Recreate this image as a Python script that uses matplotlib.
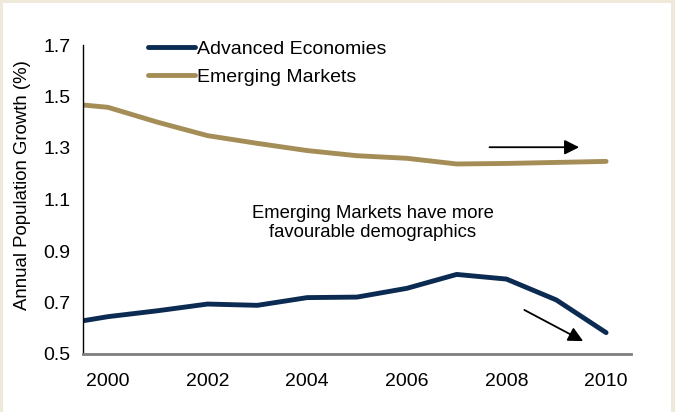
import matplotlib
matplotlib.use("Agg")
import matplotlib.pyplot as plt
from matplotlib.patches import Rectangle

plt.rcParams['font.family'] = ['Liberation Sans', 'DejaVu Sans']

years = [1999, 2000, 2001, 2002, 2003, 2004, 2005, 2006, 2007, 2008, 2009, 2010]
advanced = [0.613, 0.645, 0.668, 0.694, 0.689, 0.719, 0.721, 0.755, 0.809, 0.791, 0.710, 0.583]
emerging = [1.476, 1.458, 1.400, 1.348, 1.318, 1.290, 1.270, 1.260, 1.238, 1.240, 1.244, 1.248]

navy = '#0C2B52'
gold = '#A48D56'
beige = '#EEE9D8'

fig = plt.figure(figsize=(6.75, 4.12), dpi=100, facecolor=beige)
# white panel inside the beige frame, kept behind the axes
fig.patches.append(Rectangle((3 / 675, 0), 668 / 675, 409 / 412,
                             transform=fig.transFigure, facecolor='white',
                             edgecolor='none', zorder=-10))

ax = fig.add_axes([83 / 675, 58 / 412, 548 / 675, 309 / 412])
ax.set_facecolor('none')

ax.plot(years, advanced, color=navy, lw=3.5, label='Advanced Economies',
        solid_capstyle='round')
ax.plot(years, emerging, color=gold, lw=3.5, label='Emerging Markets',
        solid_capstyle='round')

ax.set_xlim(1999.5, 2010.5)
ax.set_ylim(0.5, 1.7)
ax.set_xticks([2000, 2002, 2004, 2006, 2008, 2010])
ax.set_yticks([0.5, 0.7, 0.9, 1.1, 1.3, 1.5, 1.7])
ax.set_yticklabels(['0.5', '0.7', '0.9', '1.1', '1.3', '1.5', '1.7'])
ax.tick_params(axis='x', length=0, pad=14, labelsize=14)
ax.tick_params(axis='y', length=0, pad=9, labelsize=14)

for side in ('top', 'right'):
    ax.spines[side].set_visible(False)
ax.spines['left'].set_color('black')
ax.spines['left'].set_linewidth(1.0)
ax.spines['bottom'].set_color('#7F7F7F')
ax.spines['bottom'].set_linewidth(2.0)

ax.set_ylabel('Annual Population Growth (%)', fontsize=13.4)
ax.yaxis.set_label_coords(-0.094, 0.547)

ax.legend(loc='upper left', bbox_to_anchor=(148 / 675, 1 - 40 / 412),
          bbox_transform=fig.transFigure, frameon=False, fontsize=14,
          handlelength=2.4, handletextpad=0.1, labelspacing=0.55,
          borderpad=0, borderaxespad=0)

ax.text(2005.32, 1.009, 'Emerging Markets have more\nfavourable demographics',
        ha='center', va='center', fontsize=13.3, linespacing=1.19)

arrow = dict(arrowstyle='-|>', color='black', lw=1.3, mutation_scale=22,
             shrinkA=0, shrinkB=0)
ax.annotate('', xy=(2009.46, 1.303), xytext=(2007.66, 1.303), arrowprops=arrow)
ax.annotate('', xy=(2009.54, 0.55), xytext=(2008.36, 0.671), arrowprops=arrow)

fig.savefig('out.png', dpi=100, facecolor=beige)
